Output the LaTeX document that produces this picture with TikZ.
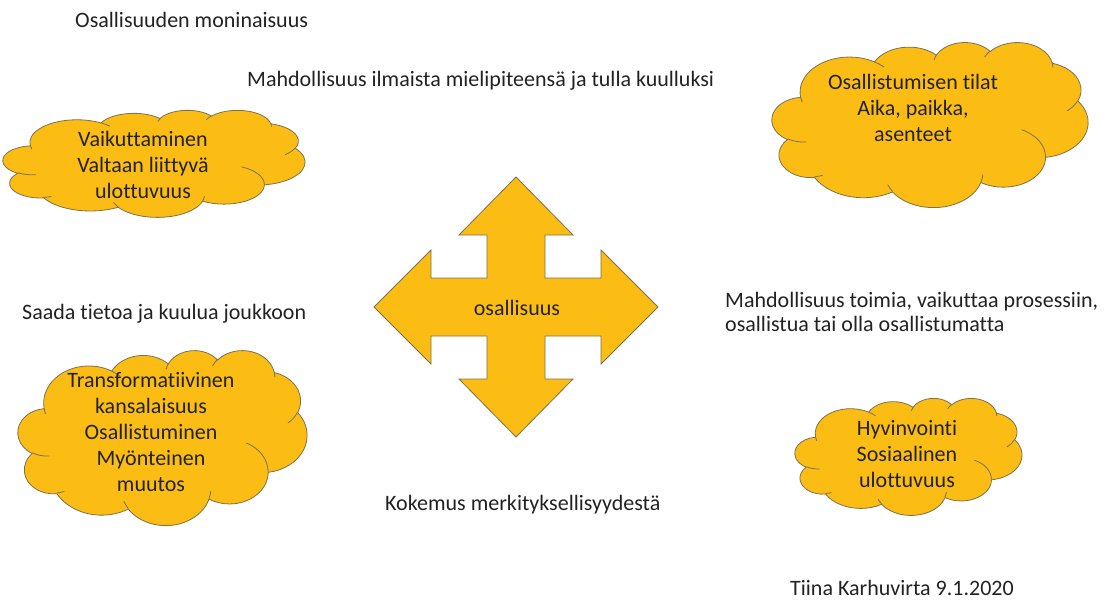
\documentclass[tikz,border=0pt]{standalone}
\usepackage{fontspec}
\setmainfont{Carlito}[Ligatures=NoCommon]
\definecolor{kulta}{RGB}{251,189,20}
\definecolor{raja}{RGB}{125,112,78}
\definecolor{teksti}{RGB}{34,34,34}

% slide cloud outline in a 432 x 432 box, scaled into x0,y0,w,h
\newcommand{\pilvi}[4]{%
	\pgfmathsetmacro\pilvix{#3/432}\pgfmathsetmacro\pilviy{#4/432}%
	\begin{scope}[shift={(#1,#2)}, x=\pilvix pt, y=-\pilviy pt]
	\draw[pilvireuna] (39,143.7)
		arc[start angle=-187.745, end angle=-59.63, x radius=67.53, y radius=91.90]
		arc[start angle=-152.04, end angle=-45.45, x radius=53.33, y radius=72.67]
		arc[start angle=-153.50, end angle=-37.34, x radius=43.65, y radius=59.45]
		arc[start angle=-139.70, end angle=-10.21, x radius=48.57, y radius=65.95]
		arc[start angle=-74.77, end angle=23.21, x radius=53.33, y radius=72.73]
		arc[start angle=-37.51, end angle=81.86, x radius=67.75, y radius=92.20]
		arc[start angle=0.46, end angle=121.98, x radius=57.85, y radius=78.67]
		arc[start angle=16.84, end angle=146.23, x radius=67.52, y radius=92.15]
		arc[start angle=58.99, end angle=150.19, x radius=77.20, y radius=105.43]
		arc[start angle=-276.69, end angle=-136.90, x radius=43.60, y radius=59.18]
		arc[start angle=-239.65, end angle=-95.89, x radius=43.45, y radius=59.45]
		-- cycle;
	% the small inner curves
	\draw[pilviviiva]
		(46.93,261.77) arc[start angle=85.55, end angle=120.35, x radius=43.45, y radius=59.45]
		(69.28,348.99) arc[start angle=68.24, end angle=83.31, x radius=43.60, y radius=59.18]
		(164.78,390.90) arc[start angle=146.23, end angle=158.47, x radius=67.52, y radius=92.15]
		(288.27,347.51) arc[start angle=4.74, end angle=16.84, x radius=67.52, y radius=92.15]
		(341.29,229.54) arc[start angle=-64.03, end angle=0.46, x radius=57.85, y radius=78.67]
		(417.98,153.54) arc[start angle=23.21, end angle=49.64, x radius=53.33, y radius=72.73]
		(383.24,54.26) arc[start angle=-10.21, end angle=0.82, x radius=48.57, y radius=65.95]
		(290.78,39.52) arc[start angle=-156.27, end angle=-139.70, x radius=48.57, y radius=65.95]
		(221.41,47.20) arc[start angle=-167.73, end angle=-153.50, x radius=43.65, y radius=59.45]
		(140.00,51.92) arc[start angle=-59.63, end angle=-45.73, x radius=67.53, y radius=91.90]
		(41.27,157.89) arc[start angle=163.19, end angle=172.255, x radius=67.53, y radius=91.90];
	\end{scope}}

\begin{document}
\begin{tikzpicture}[x=1pt,y=-1pt]
\tikzset{
	pilvireuna/.style={draw=raja, fill=kulta, line width=0.8pt},
	pilviviiva/.style={draw=raja, line width=0.8pt}, % no fill
	pilviteksti/.style={align=center, inner sep=0pt, text=teksti,
		font=\fontsize{22}{26}\selectfont},
	otsikko/.style={anchor=base west, inner sep=0pt, text=teksti,
		font=\fontsize{22}{26}\selectfont}
}
\useasboundingbox (0,0) rectangle (1111,614);

\node[otsikko] (MONILBL) at (75,27) {Osallisuuden moninaisuus};
\node[otsikko] (ILMLBL) at (247,86) {Mahdollisuus ilmaista mielipiteensä ja tulla kuulluksi};
\node[otsikko] (TIETOLBL) at (22,319) {Saada tietoa ja kuulua joukkoon};
\node[otsikko, anchor=west, align=left, font=\fontsize{22}{24}\selectfont] (TOIMLBL) at (725,312) {Mahdollisuus toimia, vaikuttaa prosessiin,\\osallistua tai olla osallistumatta};
\node[otsikko] (KOKLBL) at (385,510) {Kokemus merkityksellisyydestä};
\node[otsikko] (TEKLBL) at (790,595) {Tiina Karhuvirta 9.1.2020};

% clouds
\pilvi{3}{110}{302}{107}
\node[pilviteksti] (VAIKLBL) at (143,165) {Vaikuttaminen\\Valtaan liittyvä\\ulottuvuus};
\pilvi{772}{42}{316}{165}
\node[pilviteksti] (TILATLBL) at (913,108) {Osallistumisen tilat\\Aika, paikka,\\asenteet};
\pilvi{18}{350}{289}{175}
\node[pilviteksti] (MUUTLBL) at (151,432) {Transformatiivinen\\kansalaisuus\\Osallistuminen\\Myönteinen\\muutos};
\pilvi{795}{398}{227}{117}
\node[pilviteksti] (HYVLBL) at (907,454) {Hyvinvointi\\Sosiaalinen\\ulottuvuus};

% four-way arrow
{\draw[draw=raja, fill=kulta, line width=0.8pt, shift={(516,307)}]
	(0,-130) -- (57,-72) -- (29,-72) -- (29,-29) -- (85,-29) -- (85,-57) -- (142,0)
	-- (85,57) -- (85,29) -- (29,29) -- (29,72) -- (57,72) -- (0,130)
	-- (-57,72) -- (-29,72) -- (-29,29) -- (-85,29) -- (-85,57) -- (-142,0)
	-- (-85,-57) -- (-85,-29) -- (-29,-29) -- (-29,-72) -- (-57,-72) -- cycle;}
\node[pilviteksti] (OSALBL) at (517,308) {osallisuus};
\end{tikzpicture}
\end{document}
